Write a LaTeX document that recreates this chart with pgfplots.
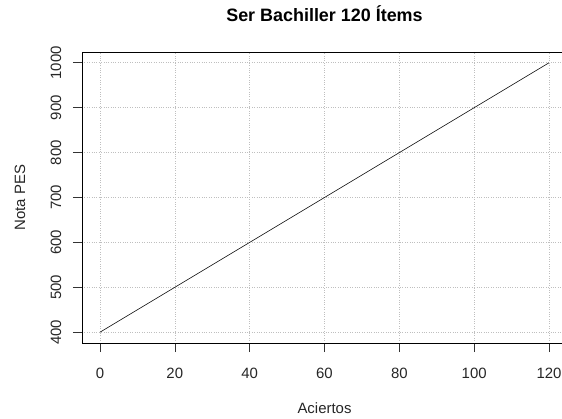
\documentclass[border=0pt]{standalone}
\usepackage{fontspec}
\setmainfont{Liberation Sans}
\usepackage{pgfplots}
\pgfplotsset{compat=1.18}

\begin{document}
\begin{tikzpicture}[x=1bp,y=1bp]
\begin{axis}[
    scale only axis,
    width=485bp, height=291bp,
    xmin=-4.8, xmax=124.8,
    ymin=376, ymax=1024,
    xtick={0,20,...,120},
    ytick={400,500,...,1000},
    tick pos=left,
    tick align=outside,
    major tick length=9bp,
    tick style={black!80, line width=0.6pt},
    axis line style={black, line width=0.8pt},
    grid=major,
    grid style={dotted, color=black!25, line width=0.6pt},
    /pgf/number format/assume math mode=true,
    /pgf/number format/1000 sep={},
    ticklabel style={font=\fontsize{15}{17}\selectfont, text=black!85},
    xticklabel style={anchor=center, yshift=-21bp},
    yticklabel style={rotate=90, anchor=center, yshift=17bp},
    title={Ser Bachiller 120 Ítems},
    title style={font=\bfseries\fontsize{18}{20}\selectfont, at={(0.5,1)}, anchor=base, yshift=25bp},
    xlabel={Aciertos},
    ylabel={Nota PES},
    label style={font=\fontsize{15}{17}\selectfont, text=black!85},
    xlabel style={at={(0.5,0)}, anchor=base, yshift=-70bp},
    ylabel style={at={(0,0.5)}, anchor=center, yshift=62bp},
    clip=false,
]
\addplot[black, line width=0.6pt] coordinates {(0,400) (120,1000)};
\coordinate (bl) at (rel axis cs:0,0);
\coordinate (tr) at (rel axis cs:1,1);
\end{axis}
\pgfresetboundingbox
\path ([shift={(-82bp,-76bp)}]bl) rectangle ([shift={(-5bp,52bp)}]tr);
\end{tikzpicture}
\end{document}
